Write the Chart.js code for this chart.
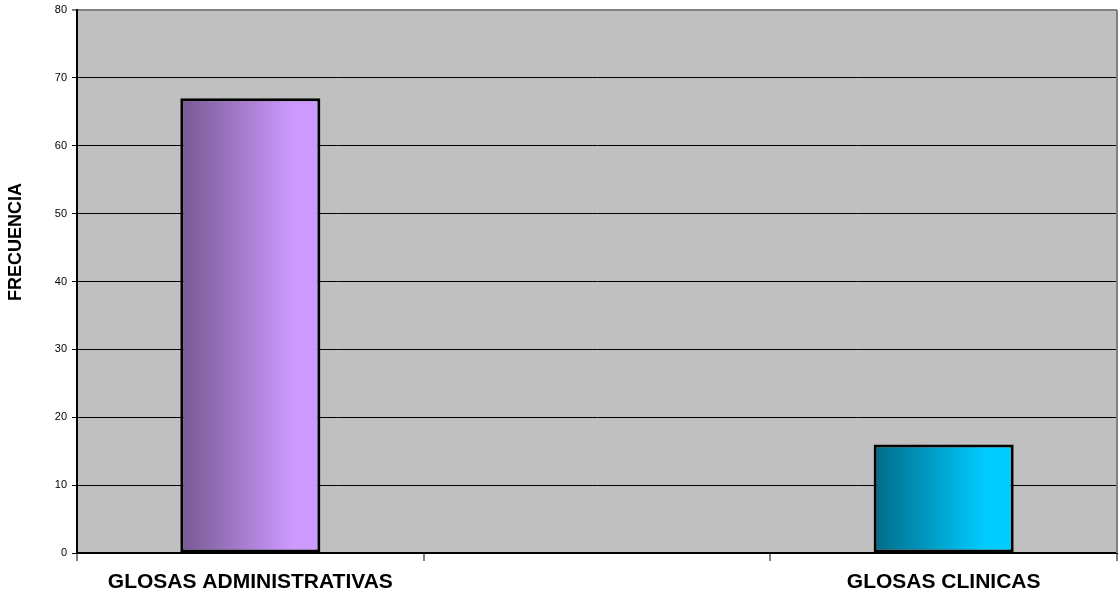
<!DOCTYPE html>
<html lang="es">
<head>
<meta charset="utf-8">
<title>Glosas – Frecuencia</title>
<script src="https://cdn.jsdelivr.net/npm/chart.js@4.4.1/dist/chart.umd.min.js"></script>
<style>
  html, body { margin: 0; padding: 0; background: #fff; }
  #wrap { width: 1120px; height: 597px; position: relative; }
</style>
</head>
<body>
<div id="wrap"><canvas id="glosas-chart"></canvas></div>
<script>
/* Frecuencia de glosas por tipo */

const categories = ['GLOSAS ADMINISTRATIVAS', '', 'GLOSAS CLINICAS'];
const frecuencia = [67, null, 16];
const yTicks = [0, 10, 20, 30, 40, 50, 60, 70, 80];

// dark -> light horizontal shading for each bar
const barShades = [
  ['#765890', '#cc99ff'],
  null,
  ['#006b88', '#00ccff']
];

const FONT = '"Liberation Sans", Arial, sans-serif';

function barGradient(ctx) {
  const chart = ctx.chart;
  const shade = barShades[ctx.dataIndex] || ['#999', '#ccc'];
  if (!chart.chartArea || !chart.scales.x) return shade[1];
  const xs = chart.scales.x;
  const cx = xs.getPixelForValue(ctx.dataIndex);
  const half = xs.width / categories.length * 0.404 / 2;
  const g = chart.ctx.createLinearGradient(cx - half, 0, cx + half, 0);
  g.addColorStop(0, shade[0]);
  g.addColorStop(0.8, shade[1]);
  g.addColorStop(1, shade[1]);
  return g;
}

// grey plot background plus the right-hand frame line
const plotArea = {
  id: 'plotArea',
  beforeDraw(chart) {
    const { ctx, chartArea: a } = chart;
    ctx.save();
    ctx.fillStyle = '#c0c0c0';
    ctx.fillRect(a.left, a.top, a.right - a.left, a.bottom - a.top);
    ctx.restore();
  },
  afterDatasetsDraw(chart) {
    const { ctx, chartArea: a } = chart;
    ctx.save();
    ctx.strokeStyle = '#808080';
    ctx.lineWidth = 2;
    ctx.beginPath();
    ctx.moveTo(a.right, a.top);
    ctx.lineTo(a.right, a.bottom);
    ctx.stroke();
    ctx.restore();
  }
};

// vertical axis title, placed by hand
const yTitle = {
  id: 'yTitle',
  afterDraw(chart) {
    const ctx = chart.ctx;
    ctx.save();
    ctx.translate(16, 242);
    ctx.rotate(-Math.PI / 2);
    ctx.font = 'bold 18px ' + FONT;
    ctx.fillStyle = '#000';
    ctx.textAlign = 'center';
    ctx.textBaseline = 'middle';
    ctx.fillText('FRECUENCIA', 0, 0);
    ctx.restore();
  }
};

new Chart(document.getElementById('glosas-chart'), {
  type: 'bar',
  data: {
    labels: categories,
    datasets: [{
      label: 'Frecuencia',
      data: frecuencia,
      backgroundColor: barGradient,
      borderColor: '#000',
      borderWidth: 3,
      borderSkipped: false,
      categoryPercentage: 1,
      barPercentage: 0.404
    }]
  },
  options: {
    responsive: true,
    maintainAspectRatio: false,
    animation: false,
    layout: { padding: { top: 10, right: 3, left: 0, bottom: 0 } },
    plugins: {
      legend: { display: false },
      tooltip: { enabled: false }
    },
    scales: {
      x: {
        grid: {
          offset: true,
          drawOnChartArea: false,
          color: '#808080',
          lineWidth: 2,
          tickLength: 8
        },
        border: { color: '#000', width: 2 },
        ticks: {
          color: '#000',
          padding: 9,
          maxRotation: 0,
          autoSkip: false,
          font: { family: FONT, size: 21, weight: 'bold' }
        },
        afterFit(scale) {
          scale.height = 44;
          scale.paddingLeft = 0;
          scale.paddingRight = 0;
        }
      },
      y: {
        min: 0,
        max: 80,
        afterBuildTicks(scale) { scale.ticks = yTicks.map(v => ({ value: v })); },
        grid: {
          color: ctx => (ctx.tick && ctx.tick.value === 80 ? '#808080' : '#000'),
          lineWidth: ctx => (ctx.tick && ctx.tick.value === 80 ? 2 : 1),
          tickLength: 5
        },
        border: { color: '#000', width: 2 },
        ticks: {
          color: '#000',
          padding: 5,
          font: { family: FONT, size: 11 }
        },
        afterFit(scale) {
          scale.width = 77;
          scale.paddingTop = 0;
          scale.paddingBottom = 0;
        }
      }
    }
  },
  plugins: [plotArea, yTitle]
});
</script>
</body>
</html>
